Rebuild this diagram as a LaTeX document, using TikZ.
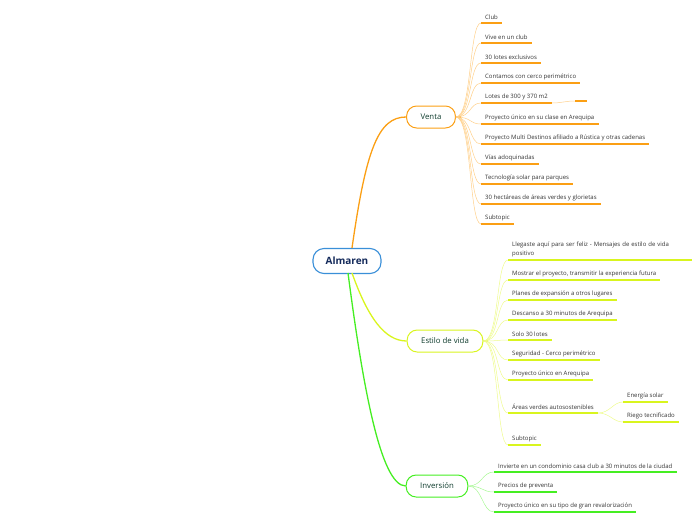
\documentclass[tikz,border=0pt]{standalone}
\usepackage{fontspec}
\setmainfont{Open Sans}
\usetikzlibrary{positioning}

\definecolor{rootblue}{HTML}{3A8FD8}
\definecolor{rootnavy}{HTML}{13295A}
\definecolor{ventaor}{HTML}{FB9F14}
\definecolor{ventalt}{HTML}{FFD08A}
\definecolor{estiloyl}{HTML}{D9F51E}
\definecolor{estilolt}{HTML}{EEFB8E}
\definecolor{invgreen}{HTML}{45EE22}
\definecolor{invlt}{HTML}{A8F895}
\definecolor{topicink}{HTML}{0D3B2C}
\definecolor{leafink}{HTML}{333333}

\tikzset{
  root/.style={draw=rootblue, line width=1.1pt, rounded corners=11pt,
    minimum width=68pt, minimum height=25pt, text=rootnavy,
    font=\fontsize{10}{12}\selectfont\bfseries},
  topic/.style={draw=#1, line width=1pt, rounded corners=10pt,
    minimum height=22pt, inner xsep=14pt, text=topicink,
    font=\fontsize{7.8}{9}\selectfont},
  leaf/.style={anchor=south west, inner xsep=4pt, inner ysep=3pt,
    text=leafink, font=\fontsize{6}{9}\selectfont},
  branch/.style={draw=#1, line width=1.3pt},
  under/.style={draw=#1, line width=1.3pt},
  twig/.style={draw=#1, line width=0.5pt},
}

\begin{document}
\begin{tikzpicture}[x=1pt,y=-1pt]
	\useasboundingbox (0,0) rectangle (696,520);

	% central topic and main branches
	\node[root] (alm) at (347,261) {Almaren};
	\node[topic=ventaor] (venta) at (431,117) {Venta};
	\node[topic=estiloyl] (estilo) at (445,341) {Estilo de vida};
	\node[topic=invgreen] (inv) at (437,486) {Inversión};

	\draw[branch=ventaor] (352,248) .. controls (366,150) and (378,117) .. (venta.west);
	\draw[branch=estiloyl] (352,273) .. controls (368,318) and (385,341) .. (estilo.west);
	\draw[branch=invgreen] (348,273) .. controls (362,380) and (380,486) .. (inv.west);

	% Venta
	\node[leaf] (v1) at (481,23) {Club};
	\node[leaf] (v2) at (481,43) {Vive en un club};
	\node[leaf] (v3) at (481,63) {30 lotes exclusivos};
	\node[leaf] (v4) at (481,83) {Contamos con cerco perimétrico};
	\node[leaf] (v5) at (481,103) {Lotes de 300 y 370 m2};
	\node[leaf] (v6) at (481,124) {Proyecto único en su clase en Arequipa};
	\node[leaf] (v7) at (481,144) {Proyecto Multi Destinos afiliado a Rústica y otras cadenas};
	\node[leaf] (v8) at (481,164) {Vías adoquinadas};
	\node[leaf] (v9) at (481,184) {Tecnología solar para parques};
	\node[leaf] (v10) at (481,204) {30 hectáreas de áreas verdes y glorietas};
	\node[leaf] (v11) at (481,224) {Subtopic};
	\coordinate (v5x) at (575,101);

	\draw[under=ventaor] (venta.east) -- ++(5,0);
	\foreach \n in {v1,v2,v3,v4,v5,v6,v7,v8,v9,v10,v11} {
		\draw[twig=ventalt] (venta.east) .. controls +(16,0) and +(-12,0) .. (\n.south west);
		\draw[under=ventaor] (\n.south west) -- (\n.south east);
	}
	\draw[twig=ventalt] (v5.south east) .. controls +(10,0) and +(-10,0) .. (v5x);
	\draw[under=ventaor] (v5x) -- ++(12,0);

	% Estilo de vida
	\node[leaf, text width=176pt, align=left] (e1) at (508,260)
		{Llegaste aquí para ser feliz - Mensajes de estilo de vida \mbox{positivo}};
	\node[leaf] (e2) at (508,280) {Mostrar el proyecto, transmitir la experiencia futura};
	\node[leaf] (e3) at (508,300) {Planes de expansión a otros lugares};
	\node[leaf] (e4) at (508,320) {Descanso a 30 minutos de Arequipa};
	\node[leaf] (e5) at (508,340) {Solo 30 lotes};
	\node[leaf] (e6) at (508,360) {Seguridad - Cerco perimétrico};
	\node[leaf] (e7) at (508,380) {Proyecto único en Arequipa};
	\node[leaf] (e8) at (508,413) {Áreas verdes autosostenibles};
	\node[leaf] (e9) at (508,445) {Subtopic};
	\node[leaf] (e81) at (623,402) {Energía solar};
	\node[leaf] (e82) at (623,422) {Riego tecnificado};

	\draw[under=estiloyl] (estilo.east) -- ++(5,0);
	\foreach \n in {e1,e2,e3,e4,e5,e6,e7,e8,e9} {
		\draw[twig=estilolt] (estilo.east) .. controls +(16,0) and +(-12,0) .. (\n.south west);
		\draw[under=estiloyl] (\n.south west) -- (\n.south east);
	}
	\foreach \n in {e81,e82} {
		\draw[twig=estilolt] (e8.south east) .. controls +(12,0) and +(-10,0) .. (\n.south west);
		\draw[under=estiloyl] (\n.south west) -- (\n.south east);
	}

	% Inversion
	\node[leaf] (i1) at (494,472) {Invierte en un condominio casa club a 30 minutos de la ciudad};
	\node[leaf] (i2) at (494,492) {Precios de preventa};
	\node[leaf] (i3) at (494,512) {Proyecto único en su tipo de gran revalorización};

	\foreach \n in {i1,i2,i3} {
		\draw[twig=invlt] (inv.east) .. controls +(14,0) and +(-12,0) .. (\n.south west);
		\draw[under=invgreen] (\n.south west) -- (\n.south east);
	}

\end{tikzpicture}
\end{document}
